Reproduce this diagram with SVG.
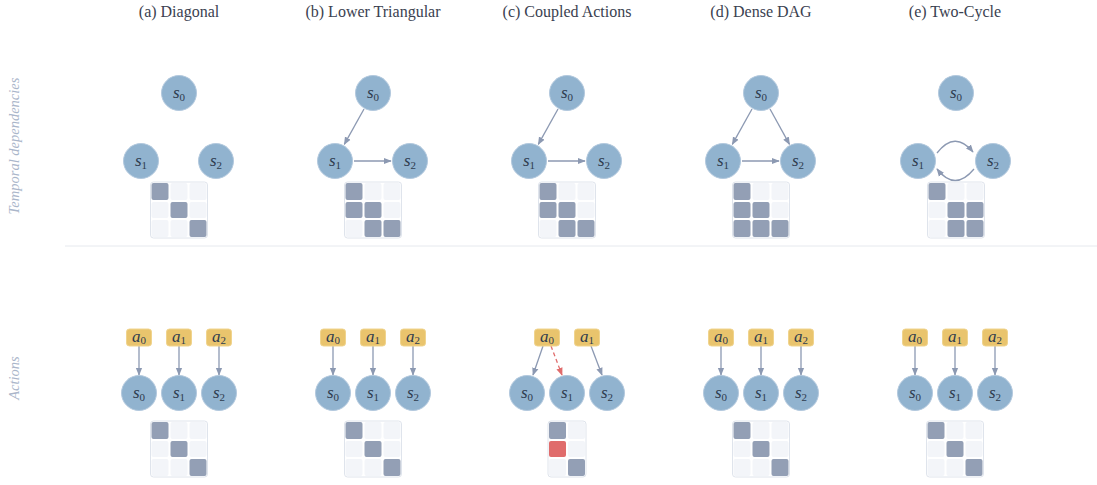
<svg xmlns="http://www.w3.org/2000/svg" width="1097" height="485" viewBox="0 0 1097 485">
<style>
.title{font-family:"Liberation Serif",serif;font-size:16px;fill:#3a4150;text-anchor:middle}
.side{font-family:"Liberation Serif",serif;font-style:italic;font-size:14.5px;fill:#aab6ca;text-anchor:middle}
.st{fill:#91b3cf;stroke:#b3c9de;stroke-width:1}
.ac{fill:#e9c46d;stroke:#f0d48e;stroke-width:1}
.lab{font-family:"Liberation Serif",serif;font-style:italic;font-size:17px;fill:#2e3b4e;text-anchor:middle}
.sub{font-size:11px;font-style:normal}
.mf{fill:#ffffff;stroke:#dfe4ec;stroke-width:1}
.e{fill:#f3f5f9}
.f{fill:#939fb5}
.r{fill:#e06c6c}
.ar{fill:none;stroke:#8c99b2;stroke-width:1.3;marker-end:url(#ah)}
.dr{fill:none;stroke:#e06c6c;stroke-width:1.3;stroke-dasharray:4 3;marker-end:url(#ahr)}
</style>
<defs>
<marker id="ah" viewBox="0 0 10 10" refX="9" refY="5" markerWidth="8" markerHeight="8" markerUnits="userSpaceOnUse" orient="auto"><path d="M0,1 L10,5 L0,9 Z" fill="#8c99b2"/></marker>
<marker id="ahr" viewBox="0 0 10 10" refX="9" refY="5" markerWidth="8" markerHeight="8" markerUnits="userSpaceOnUse" orient="auto"><path d="M0,1 L10,5 L0,9 Z" fill="#e06c6c"/></marker>
</defs>
<rect width="1097" height="485" fill="#ffffff"/>
<g id="titles">
<text class="title" x="179" y="17">(a) Diagonal</text>
<text class="title" x="373" y="17">(b) Lower Triangular</text>
<text class="title" x="567" y="17">(c) Coupled Actions</text>
<text class="title" x="761" y="17">(d) Dense DAG</text>
<text class="title" x="955" y="17">(e) Two-Cycle</text>
</g>
<g id="side-labels">
<text class="side" transform="translate(19,146) rotate(-90)">Temporal dependencies</text>
<text class="side" transform="translate(19,378) rotate(-90)">Actions</text>
</g>
<line x1="65" y1="246" x2="1097" y2="246" stroke="#e6e9ee" stroke-width="1"/>

<g id="connectors">
<g transform="translate(373,0)">
<line class="ar" x1="-9" y1="109" x2="-28.7" y2="144.4"/>
<line class="ar" x1="-19" y1="161" x2="18" y2="161"/>
</g>
<g transform="translate(567,0)">
<line class="ar" x1="-9" y1="109" x2="-28.7" y2="144.4"/>
<line class="ar" x1="-19" y1="161" x2="18" y2="161"/>
</g>
<g transform="translate(761,0)">
<line class="ar" x1="-9" y1="109" x2="-28.7" y2="144.4"/>
<line class="ar" x1="9" y1="109" x2="28.5" y2="144.4"/>
<line class="ar" x1="-19" y1="161" x2="18" y2="161"/>
</g>
<g transform="translate(955,0)">
<path class="ar" d="M-18,153 Q0,130 18,152"/>
<path class="ar" d="M19,169 Q0,192 -18,169"/>
</g>
<g transform="translate(179,0)">
<line class="ar" x1="-40" y1="346" x2="-40" y2="375"/>
<line class="ar" x1="0" y1="346" x2="0" y2="375"/>
<line class="ar" x1="40" y1="346" x2="40" y2="375"/>
</g>
<g transform="translate(373,0)">
<line class="ar" x1="-40" y1="346" x2="-40" y2="375"/>
<line class="ar" x1="0" y1="346" x2="0" y2="375"/>
<line class="ar" x1="40" y1="346" x2="40" y2="375"/>
</g>
<g transform="translate(567,0)">
<line class="ar" x1="-24" y1="346" x2="-34" y2="375"/>
<line class="dr" x1="-16" y1="346" x2="-5" y2="375"/>
<line class="ar" x1="24" y1="346" x2="35" y2="375"/>
</g>
<g transform="translate(761,0)">
<line class="ar" x1="-40" y1="346" x2="-40" y2="375"/>
<line class="ar" x1="0" y1="346" x2="0" y2="375"/>
<line class="ar" x1="40" y1="346" x2="40" y2="375"/>
</g>
<g transform="translate(955,0)">
<line class="ar" x1="-40" y1="346" x2="-40" y2="375"/>
<line class="ar" x1="0" y1="346" x2="0" y2="375"/>
<line class="ar" x1="40" y1="346" x2="40" y2="375"/>
</g>
</g>

<g id="col-a-top" transform="translate(179,0)">
<g id="a-s0"><circle class="st" cx="0" cy="93" r="17.5"/><text class="lab" x="0" y="98">s<tspan class="sub" dy="3">0</tspan></text></g>
<g id="a-s1"><circle class="st" cx="-38" cy="161" r="17.5"/><text class="lab" x="-38" y="166">s<tspan class="sub" dy="3">1</tspan></text></g>
<g id="a-s2"><circle class="st" cx="37" cy="161" r="17.5"/><text class="lab" x="37" y="166">s<tspan class="sub" dy="3">2</tspan></text></g>
<g id="a-mat-top"><rect class="mf" x="-28.5" y="182" width="57" height="56" rx="3"/>
<rect class="f" x="-27.5" y="183" width="17" height="17" rx="2"/><rect class="e" x="-8.5" y="183" width="17" height="17" rx="2"/><rect class="e" x="10.5" y="183" width="17" height="17" rx="2"/>
<rect class="e" x="-27.5" y="202" width="17" height="16" rx="2"/><rect class="f" x="-8.5" y="202" width="17" height="16" rx="2"/><rect class="e" x="10.5" y="202" width="17" height="16" rx="2"/>
<rect class="e" x="-27.5" y="220" width="17" height="17" rx="2"/><rect class="e" x="-8.5" y="220" width="17" height="17" rx="2"/><rect class="f" x="10.5" y="220" width="17" height="17" rx="2"/></g>
</g>
<g id="col-b-top" transform="translate(373,0)">
<g id="b-s0"><circle class="st" cx="0" cy="93" r="17.5"/><text class="lab" x="0" y="98">s<tspan class="sub" dy="3">0</tspan></text></g>
<g id="b-s1"><circle class="st" cx="-38" cy="161" r="17.5"/><text class="lab" x="-38" y="166">s<tspan class="sub" dy="3">1</tspan></text></g>
<g id="b-s2"><circle class="st" cx="37" cy="161" r="17.5"/><text class="lab" x="37" y="166">s<tspan class="sub" dy="3">2</tspan></text></g>
<g id="b-mat-top"><rect class="mf" x="-28.5" y="182" width="57" height="56" rx="3"/>
<rect class="f" x="-27.5" y="183" width="17" height="17" rx="2"/><rect class="e" x="-8.5" y="183" width="17" height="17" rx="2"/><rect class="e" x="10.5" y="183" width="17" height="17" rx="2"/>
<rect class="f" x="-27.5" y="202" width="17" height="16" rx="2"/><rect class="f" x="-8.5" y="202" width="17" height="16" rx="2"/><rect class="e" x="10.5" y="202" width="17" height="16" rx="2"/>
<rect class="e" x="-27.5" y="220" width="17" height="17" rx="2"/><rect class="f" x="-8.5" y="220" width="17" height="17" rx="2"/><rect class="f" x="10.5" y="220" width="17" height="17" rx="2"/></g>
</g>
<g id="col-c-top" transform="translate(567,0)">
<g id="c-s0"><circle class="st" cx="0" cy="93" r="17.5"/><text class="lab" x="0" y="98">s<tspan class="sub" dy="3">0</tspan></text></g>
<g id="c-s1"><circle class="st" cx="-38" cy="161" r="17.5"/><text class="lab" x="-38" y="166">s<tspan class="sub" dy="3">1</tspan></text></g>
<g id="c-s2"><circle class="st" cx="37" cy="161" r="17.5"/><text class="lab" x="37" y="166">s<tspan class="sub" dy="3">2</tspan></text></g>
<g id="c-mat-top"><rect class="mf" x="-28.5" y="182" width="57" height="56" rx="3"/>
<rect class="f" x="-27.5" y="183" width="17" height="17" rx="2"/><rect class="e" x="-8.5" y="183" width="17" height="17" rx="2"/><rect class="e" x="10.5" y="183" width="17" height="17" rx="2"/>
<rect class="f" x="-27.5" y="202" width="17" height="16" rx="2"/><rect class="f" x="-8.5" y="202" width="17" height="16" rx="2"/><rect class="e" x="10.5" y="202" width="17" height="16" rx="2"/>
<rect class="e" x="-27.5" y="220" width="17" height="17" rx="2"/><rect class="f" x="-8.5" y="220" width="17" height="17" rx="2"/><rect class="f" x="10.5" y="220" width="17" height="17" rx="2"/></g>
</g>
<g id="col-d-top" transform="translate(761,0)">
<g id="d-s0"><circle class="st" cx="0" cy="93" r="17.5"/><text class="lab" x="0" y="98">s<tspan class="sub" dy="3">0</tspan></text></g>
<g id="d-s1"><circle class="st" cx="-38" cy="161" r="17.5"/><text class="lab" x="-38" y="166">s<tspan class="sub" dy="3">1</tspan></text></g>
<g id="d-s2"><circle class="st" cx="37" cy="161" r="17.5"/><text class="lab" x="37" y="166">s<tspan class="sub" dy="3">2</tspan></text></g>
<g id="d-mat-top"><rect class="mf" x="-28.5" y="182" width="57" height="56" rx="3"/>
<rect class="f" x="-27.5" y="183" width="17" height="17" rx="2"/><rect class="e" x="-8.5" y="183" width="17" height="17" rx="2"/><rect class="e" x="10.5" y="183" width="17" height="17" rx="2"/>
<rect class="f" x="-27.5" y="202" width="17" height="16" rx="2"/><rect class="f" x="-8.5" y="202" width="17" height="16" rx="2"/><rect class="e" x="10.5" y="202" width="17" height="16" rx="2"/>
<rect class="f" x="-27.5" y="220" width="17" height="17" rx="2"/><rect class="f" x="-8.5" y="220" width="17" height="17" rx="2"/><rect class="f" x="10.5" y="220" width="17" height="17" rx="2"/></g>
</g>
<g id="col-e-top" transform="translate(955,0)">
<g id="e-s0"><circle class="st" cx="1" cy="93" r="17.5"/><text class="lab" x="1" y="98">s<tspan class="sub" dy="3">0</tspan></text></g>
<g id="e-s1"><circle class="st" cx="-37" cy="161" r="17.5"/><text class="lab" x="-37" y="166">s<tspan class="sub" dy="3">1</tspan></text></g>
<g id="e-s2"><circle class="st" cx="38" cy="161" r="17.5"/><text class="lab" x="38" y="166">s<tspan class="sub" dy="3">2</tspan></text></g>
<g id="e-mat-top"><rect class="mf" x="-27.5" y="182" width="57" height="56" rx="3"/>
<rect class="f" x="-26.5" y="183" width="17" height="17" rx="2"/><rect class="e" x="-7.5" y="183" width="17" height="17" rx="2"/><rect class="e" x="11.5" y="183" width="17" height="17" rx="2"/>
<rect class="e" x="-26.5" y="202" width="17" height="16" rx="2"/><rect class="f" x="-7.5" y="202" width="17" height="16" rx="2"/><rect class="f" x="11.5" y="202" width="17" height="16" rx="2"/>
<rect class="e" x="-26.5" y="220" width="17" height="17" rx="2"/><rect class="f" x="-7.5" y="220" width="17" height="17" rx="2"/><rect class="f" x="11.5" y="220" width="17" height="17" rx="2"/></g>
</g>

<g id="col-a-bot" transform="translate(179,0)">
<g id="a-a0"><rect class="ac" x="-52.5" y="329" width="25" height="17" rx="3"/><text class="lab" x="-40" y="342">a<tspan class="sub" dy="2">0</tspan></text></g>
<g id="a-a1"><rect class="ac" x="-12.5" y="329" width="25" height="17" rx="3"/><text class="lab" x="0" y="342">a<tspan class="sub" dy="2">1</tspan></text></g>
<g id="a-a2"><rect class="ac" x="27.5" y="329" width="25" height="17" rx="3"/><text class="lab" x="40" y="342">a<tspan class="sub" dy="2">2</tspan></text></g>
<g id="a-bs0"><circle class="st" cx="-40" cy="393" r="17.5"/><text class="lab" x="-40" y="398">s<tspan class="sub" dy="3">0</tspan></text></g>
<g id="a-bs1"><circle class="st" cx="0" cy="393" r="17.5"/><text class="lab" x="0" y="398">s<tspan class="sub" dy="3">1</tspan></text></g>
<g id="a-bs2"><circle class="st" cx="40" cy="393" r="17.5"/><text class="lab" x="40" y="398">s<tspan class="sub" dy="3">2</tspan></text></g>
<g id="a-mat-bot"><rect class="mf" x="-28.5" y="421" width="57" height="56" rx="3"/>
<rect class="f" x="-27.5" y="422" width="17" height="17" rx="2"/><rect class="e" x="-8.5" y="422" width="17" height="17" rx="2"/><rect class="e" x="10.5" y="422" width="17" height="17" rx="2"/>
<rect class="e" x="-27.5" y="441" width="17" height="16" rx="2"/><rect class="f" x="-8.5" y="441" width="17" height="16" rx="2"/><rect class="e" x="10.5" y="441" width="17" height="16" rx="2"/>
<rect class="e" x="-27.5" y="459" width="17" height="17" rx="2"/><rect class="e" x="-8.5" y="459" width="17" height="17" rx="2"/><rect class="f" x="10.5" y="459" width="17" height="17" rx="2"/></g>
</g>
<g id="col-b-bot" transform="translate(373,0)">
<g id="b-a0"><rect class="ac" x="-52.5" y="329" width="25" height="17" rx="3"/><text class="lab" x="-40" y="342">a<tspan class="sub" dy="2">0</tspan></text></g>
<g id="b-a1"><rect class="ac" x="-12.5" y="329" width="25" height="17" rx="3"/><text class="lab" x="0" y="342">a<tspan class="sub" dy="2">1</tspan></text></g>
<g id="b-a2"><rect class="ac" x="27.5" y="329" width="25" height="17" rx="3"/><text class="lab" x="40" y="342">a<tspan class="sub" dy="2">2</tspan></text></g>
<g id="b-bs0"><circle class="st" cx="-40" cy="393" r="17.5"/><text class="lab" x="-40" y="398">s<tspan class="sub" dy="3">0</tspan></text></g>
<g id="b-bs1"><circle class="st" cx="0" cy="393" r="17.5"/><text class="lab" x="0" y="398">s<tspan class="sub" dy="3">1</tspan></text></g>
<g id="b-bs2"><circle class="st" cx="40" cy="393" r="17.5"/><text class="lab" x="40" y="398">s<tspan class="sub" dy="3">2</tspan></text></g>
<g id="b-mat-bot"><rect class="mf" x="-28.5" y="421" width="57" height="56" rx="3"/>
<rect class="f" x="-27.5" y="422" width="17" height="17" rx="2"/><rect class="e" x="-8.5" y="422" width="17" height="17" rx="2"/><rect class="e" x="10.5" y="422" width="17" height="17" rx="2"/>
<rect class="e" x="-27.5" y="441" width="17" height="16" rx="2"/><rect class="f" x="-8.5" y="441" width="17" height="16" rx="2"/><rect class="e" x="10.5" y="441" width="17" height="16" rx="2"/>
<rect class="e" x="-27.5" y="459" width="17" height="17" rx="2"/><rect class="e" x="-8.5" y="459" width="17" height="17" rx="2"/><rect class="f" x="10.5" y="459" width="17" height="17" rx="2"/></g>
</g>
<g id="col-c-bot" transform="translate(567,0)">
<g id="c-a0"><rect class="ac" x="-32.5" y="329" width="25" height="17" rx="3"/><text class="lab" x="-20" y="342">a<tspan class="sub" dy="2">0</tspan></text></g>
<g id="c-a1"><rect class="ac" x="7.5" y="329" width="25" height="17" rx="3"/><text class="lab" x="20" y="342">a<tspan class="sub" dy="2">1</tspan></text></g>
<g id="c-bs0"><circle class="st" cx="-40" cy="393" r="17.5"/><text class="lab" x="-40" y="398">s<tspan class="sub" dy="3">0</tspan></text></g>
<g id="c-bs1"><circle class="st" cx="0" cy="393" r="17.5"/><text class="lab" x="0" y="398">s<tspan class="sub" dy="3">1</tspan></text></g>
<g id="c-bs2"><circle class="st" cx="40" cy="393" r="17.5"/><text class="lab" x="40" y="398">s<tspan class="sub" dy="3">2</tspan></text></g>
<g id="c-mat-bot"><rect class="mf" x="-19" y="421" width="38" height="56" rx="3"/>
<rect class="f" x="-18" y="422" width="17" height="17" rx="2"/><rect class="e" x="1" y="422" width="17" height="17" rx="2"/>
<rect class="r" x="-18" y="441" width="17" height="16" rx="2"/><rect class="e" x="1" y="441" width="17" height="16" rx="2"/>
<rect class="e" x="-18" y="459" width="17" height="17" rx="2"/><rect class="f" x="1" y="459" width="17" height="17" rx="2"/></g>
</g>
<g id="col-d-bot" transform="translate(761,0)">
<g id="d-a0"><rect class="ac" x="-52.5" y="329" width="25" height="17" rx="3"/><text class="lab" x="-40" y="342">a<tspan class="sub" dy="2">0</tspan></text></g>
<g id="d-a1"><rect class="ac" x="-12.5" y="329" width="25" height="17" rx="3"/><text class="lab" x="0" y="342">a<tspan class="sub" dy="2">1</tspan></text></g>
<g id="d-a2"><rect class="ac" x="27.5" y="329" width="25" height="17" rx="3"/><text class="lab" x="40" y="342">a<tspan class="sub" dy="2">2</tspan></text></g>
<g id="d-bs0"><circle class="st" cx="-40" cy="393" r="17.5"/><text class="lab" x="-40" y="398">s<tspan class="sub" dy="3">0</tspan></text></g>
<g id="d-bs1"><circle class="st" cx="0" cy="393" r="17.5"/><text class="lab" x="0" y="398">s<tspan class="sub" dy="3">1</tspan></text></g>
<g id="d-bs2"><circle class="st" cx="40" cy="393" r="17.5"/><text class="lab" x="40" y="398">s<tspan class="sub" dy="3">2</tspan></text></g>
<g id="d-mat-bot"><rect class="mf" x="-28.5" y="421" width="57" height="56" rx="3"/>
<rect class="f" x="-27.5" y="422" width="17" height="17" rx="2"/><rect class="e" x="-8.5" y="422" width="17" height="17" rx="2"/><rect class="e" x="10.5" y="422" width="17" height="17" rx="2"/>
<rect class="e" x="-27.5" y="441" width="17" height="16" rx="2"/><rect class="f" x="-8.5" y="441" width="17" height="16" rx="2"/><rect class="e" x="10.5" y="441" width="17" height="16" rx="2"/>
<rect class="e" x="-27.5" y="459" width="17" height="17" rx="2"/><rect class="e" x="-8.5" y="459" width="17" height="17" rx="2"/><rect class="f" x="10.5" y="459" width="17" height="17" rx="2"/></g>
</g>
<g id="col-e-bot" transform="translate(955,0)">
<g id="e-a0"><rect class="ac" x="-52.5" y="329" width="25" height="17" rx="3"/><text class="lab" x="-40" y="342">a<tspan class="sub" dy="2">0</tspan></text></g>
<g id="e-a1"><rect class="ac" x="-12.5" y="329" width="25" height="17" rx="3"/><text class="lab" x="0" y="342">a<tspan class="sub" dy="2">1</tspan></text></g>
<g id="e-a2"><rect class="ac" x="27.5" y="329" width="25" height="17" rx="3"/><text class="lab" x="40" y="342">a<tspan class="sub" dy="2">2</tspan></text></g>
<g id="e-bs0"><circle class="st" cx="-40" cy="393" r="17.5"/><text class="lab" x="-40" y="398">s<tspan class="sub" dy="3">0</tspan></text></g>
<g id="e-bs1"><circle class="st" cx="0" cy="393" r="17.5"/><text class="lab" x="0" y="398">s<tspan class="sub" dy="3">1</tspan></text></g>
<g id="e-bs2"><circle class="st" cx="40" cy="393" r="17.5"/><text class="lab" x="40" y="398">s<tspan class="sub" dy="3">2</tspan></text></g>
<g id="e-mat-bot"><rect class="mf" x="-28.5" y="421" width="57" height="56" rx="3"/>
<rect class="f" x="-27.5" y="422" width="17" height="17" rx="2"/><rect class="e" x="-8.5" y="422" width="17" height="17" rx="2"/><rect class="e" x="10.5" y="422" width="17" height="17" rx="2"/>
<rect class="e" x="-27.5" y="441" width="17" height="16" rx="2"/><rect class="f" x="-8.5" y="441" width="17" height="16" rx="2"/><rect class="e" x="10.5" y="441" width="17" height="16" rx="2"/>
<rect class="e" x="-27.5" y="459" width="17" height="17" rx="2"/><rect class="e" x="-8.5" y="459" width="17" height="17" rx="2"/><rect class="f" x="10.5" y="459" width="17" height="17" rx="2"/></g>
</g>
</svg>
